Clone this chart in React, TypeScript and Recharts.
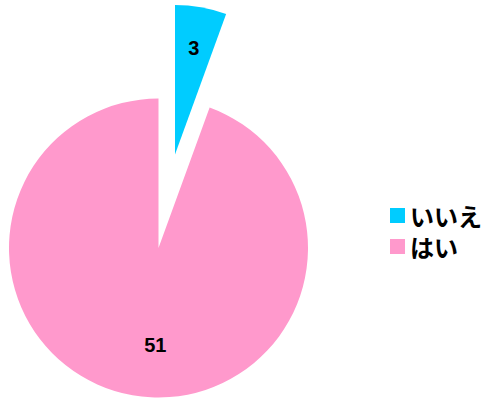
import * as React from "react"
import { PieChart, Pie, Cell } from "recharts"

const categories = ["いいえ", "はい"]
const counts = [3, 51]
const colors = ["#00CCFF", "#FF99CC"]

const data = categories.map((name, i) => ({ name, value: counts[i] }))

const RADIAN = Math.PI / 180
// chart margin is 5, cx/cy are measured inside it
const CX = 153.5
const CY = 243
const R = 149.5
const EXPLODE = 95
const FONT = "'Liberation Sans', 'Noto Sans CJK JP', sans-serif"

// mid angle of the exploded slice (recharts degrees)
const total = counts.reduce((a, b) => a + b, 0)
const explodeMid = 90 - (counts[0] / total) * 180
const ECX = CX + EXPLODE * Math.cos(explodeMid * RADIAN)
const ECY = CY - EXPLODE * Math.sin(explodeMid * RADIAN)

const makeLabel = (only: number, ratio: number, dx: number) => (props: any) => {
  const { cx, cy, midAngle, outerRadius, index, value } = props
  if (index !== only) return null
  const r = outerRadius * ratio
  const x = cx + r * Math.cos(-midAngle * RADIAN) + dx
  const y = cy + r * Math.sin(-midAngle * RADIAN)
  return (
    <text x={x} y={y} textAnchor="middle" dominantBaseline="central" fill="#000"
      style={{ fontFamily: FONT, fontWeight: "bold", fontSize: 20 }}>
      {value}
    </text>
  )
}

export default function App() {
  return (
    <div style={{ position: "fixed", left: 0, top: 0, width: 485, height: 401, background: "#fff" }}>
      <PieChart width={485} height={401}>
        <Pie data={data} dataKey="value" nameKey="name" cx={CX} cy={CY} outerRadius={R}
          startAngle={90} endAngle={-270} stroke="none" labelLine={false}
          label={makeLabel(1, 0.66, 14)} isAnimationActive={false}>
          {data.map((d, i) => (
            <Cell key={d.name} fill={i === 1 ? colors[i] : "transparent"} />
          ))}
        </Pie>
        <Pie data={data} dataKey="value" nameKey="name" cx={ECX} cy={ECY} outerRadius={R}
          startAngle={90} endAngle={-270} stroke="none" labelLine={false}
          label={makeLabel(0, 0.72, 0)} isAnimationActive={false}>
          {data.map((d, i) => (
            <Cell key={d.name} fill={i === 0 ? colors[i] : "transparent"} />
          ))}
        </Pie>
      </PieChart>
      <div style={{ position: "absolute", left: 390, top: 200, fontFamily: FONT, fontWeight: "bold", fontSize: 24, color: "#000" }}>
        {categories.map((c, i) => (
          <div key={c} style={{ display: "flex", alignItems: "center", height: 31 }}>
            <span style={{ display: "inline-block", width: 15, height: 15, background: colors[i], marginRight: 5 }} />
            <span>{c}</span>
          </div>
        ))}
      </div>
    </div>
  )
}
